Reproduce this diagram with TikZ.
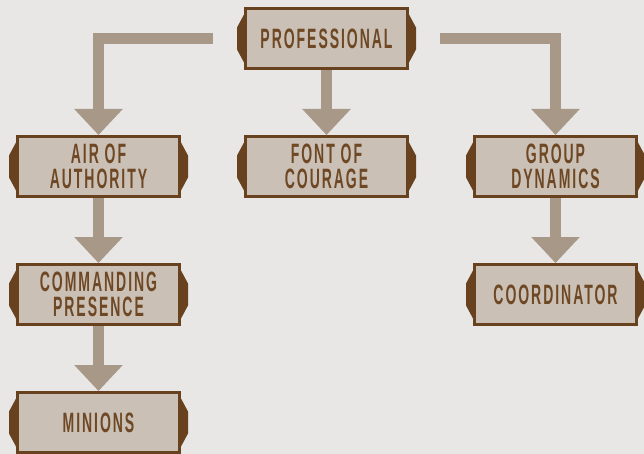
\documentclass[tikz,border=0pt]{standalone}
\usepackage{fontspec}
\newfontfamily\signfont[FakeStretch=0.5,LetterSpace=7]{Liberation Sans}
\usetikzlibrary{positioning, arrows.meta}
\definecolor{paper}{RGB}{232,231,229}
\definecolor{signfill}{RGB}{203,192,181}
\definecolor{signedge}{RGB}{104,66,30}
\definecolor{signtext}{RGB}{110,72,36}
\definecolor{shaft}{RGB}{168,152,136}
\tikzstyle{sign} = [rectangle, minimum width=162pt, minimum height=60pt, inner sep=0pt, line width=3pt, draw=signedge, fill=signfill, text=signtext, align=center, font=\signfont\bfseries\fontsize{28pt}{25pt}\selectfont]
\tikzstyle{tab} = [fill=signedge]
\tikzstyle{arrow} = [draw=shaft, line width=11pt, -{Triangle[width=47pt,length=26pt]}]

\begin{document}
\begin{tikzpicture}[x=1pt, y=1pt]
	\fill[paper] (0,0) rectangle (644,-454);
	\useasboundingbox (0,0) rectangle (644,-454);

	\node (prof) [sign] at (326.5,-38.5) {PROFESSIONAL};
	\node (air) [sign, below left=65pt and 63pt of prof] {AIR OF\\AUTHORITY};
	\node (font) [sign, below=65pt of prof] {FONT OF\\COURAGE};
	\node (group) [sign, below right=65pt and 64pt of prof] {GROUP\\DYNAMICS};
	\node (cmd) [sign, below=65pt of air] {COMMANDING\\PRESENCE};
	\node (minions) [sign, below=65pt of cmd] {MINIONS};
	\node (coord) [sign, below=65pt of group] {COORDINATOR};

	% side tabs of the signs
	\foreach \n in {prof,air,font,group,cmd,minions,coord}{
		\fill[tab] (\n.west) ++(0,24) -- ++(-7,-13) -- ++(0,-22) -- ++(7,-13) -- cycle;
		\fill[tab] (\n.east) ++(0,24) -- ++(7,-13) -- ++(0,-22) -- ++(-7,-13) -- cycle;
	}

	\coordinate (profleft) at ([xshift=-31pt]prof.west);
	\coordinate (profright) at ([xshift=31pt]prof.east);

	\draw [arrow](profleft) -| (air);
	\draw [arrow](prof) -- (font);
	\draw [arrow](profright) -| (group);
	\draw [arrow](air) -- (cmd);
	\draw [arrow](cmd) -- (minions);
	\draw [arrow](group) -- (coord);
\end{tikzpicture}
\end{document}
